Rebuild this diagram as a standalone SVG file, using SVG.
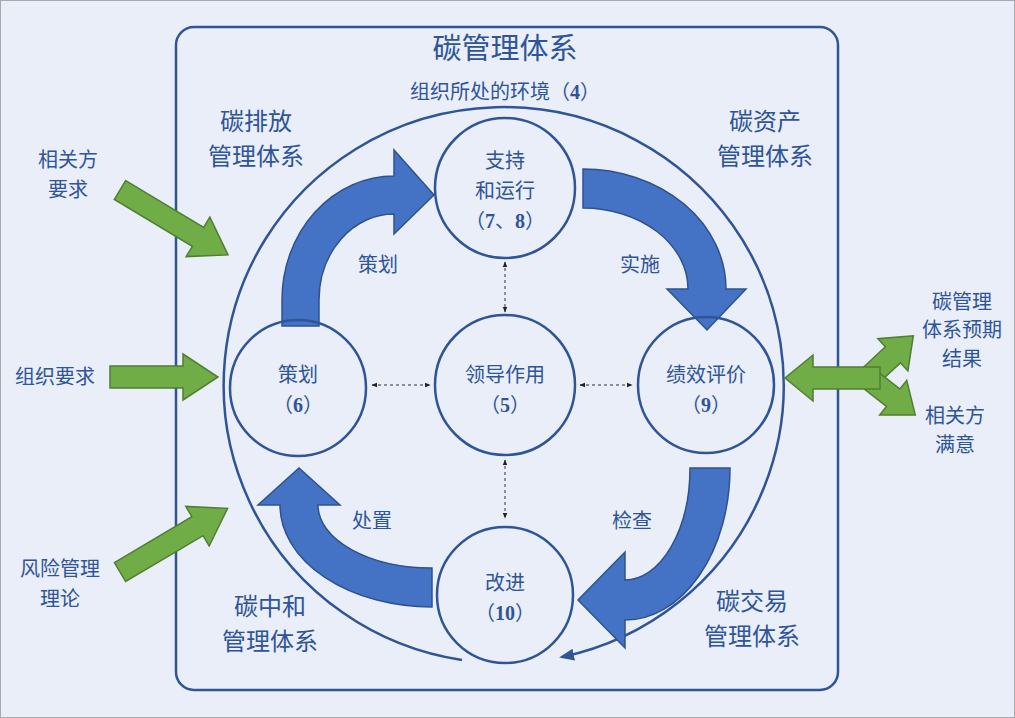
<svg xmlns="http://www.w3.org/2000/svg" width="1015" height="718" viewBox="0 0 1015 718">
<style>
text{font-family:"Noto Sans CJK SC","Noto Sans",sans-serif;fill:#2f5597;text-anchor:middle}
.t20{font-size:20px}.t24{font-size:24px}
.num{font-family:"Liberation Serif","Noto Sans CJK SC",serif;font-weight:bold;font-size:20px}
.c{fill:none;stroke:#2f5597;stroke-width:2.5}
.b{fill:#4472c4;stroke:#2f528f;stroke-width:1.5}
.g{fill:#70ad47;stroke:#507e32;stroke-width:1.5}
.d{stroke:#333;stroke-width:1;stroke-dasharray:3,3;fill:none;marker-start:url(#sm);marker-end:url(#sm)}
</style>
<defs>
<marker id="sm" viewBox="0 0 10 10" refX="9" refY="5" markerWidth="6" markerHeight="6" orient="auto-start-reverse"><path d="M0,1L10,5L0,9z" fill="#222"/></marker>
<marker id="big" viewBox="0 0 10 10" refX="8" refY="5" markerWidth="6" markerHeight="6" orient="auto"><path d="M0,1L10,5L0,9z" fill="#2f5597"/></marker>
</defs>
<rect x="0.5" y="0.5" width="1014" height="717" fill="#e9eef8" stroke="#aaa"/>
<rect x="176" y="27" width="662" height="663" rx="18" fill="none" stroke="#2f5597" stroke-width="2.5"/>
<text x="505" y="59" style="font-size:29px">碳管理体系</text>
<text x="505" y="99" class="t20">组织所处的环境（<tspan class="num">4</tspan>）</text>
<g id="labels">
<text x="256" y="130" class="t24">碳排放</text><text x="256" y="165" class="t24">管理体系</text>
<text x="765" y="130" class="t24">碳资产</text><text x="765" y="165" class="t24">管理体系</text>
<text x="270" y="615" class="t24">碳中和</text><text x="270" y="650" class="t24">管理体系</text>
<text x="752" y="610" class="t24">碳交易</text><text x="752" y="645" class="t24">管理体系</text>
<text x="68" y="167" class="t20">相关方</text><text x="68" y="197" class="t20">要求</text>
<text x="55" y="384" class="t20">组织要求</text>
<text x="60" y="576" class="t20">风险管理</text><text x="60" y="606" class="t20">理论</text>
<text x="962" y="309" class="t20">碳管理</text><text x="962" y="337" class="t20">体系预期</text><text x="962" y="366" class="t20">结果</text>
<text x="955" y="423" class="t20">相关方</text><text x="955" y="452" class="t20">满意</text>
<text x="378" y="272" class="t20">策划</text><text x="640" y="272" class="t20">实施</text>
<text x="632" y="528" class="t20">检查</text><text x="372" y="528" class="t20">处置</text>
</g>
<g id="connectors">
<path d="M462,660 A280,278 0 1 1 562,657" fill="none" stroke="#2f5597" stroke-width="2.5" marker-end="url(#big)"/>
<path class="b" d="M282,326 L282,300 A112,124 0 0 1 394,176 L394,150 L434,195 L394,234 L394,214 A75,86 0 0 0 319,300 L319,326 Z"/>
<path class="b" d="M583,169 A143,120 0 0 1 726,289 L746,289 L707,330 L667,289 L688,289 A105,81 0 0 0 583,208 Z"/>
<path class="b" d="M730,468 A105,152 0 0 1 625,620 L625,648 L578,600 L625,552 L625,580 A65,112 0 0 0 690,468 Z"/>
<path class="b" d="M432,607 A152,102 0 0 1 280,505 L258,505 L299,468 L340,505 L318,505 A114,63 0 0 0 432,568 Z"/>
<line class="d" x1="505" y1="262" x2="505" y2="312"/>
<line class="d" x1="505" y1="460" x2="505" y2="518"/>
<line class="d" x1="372" y1="385" x2="430" y2="385"/>
<line class="d" x1="580" y1="385" x2="632" y2="385"/>
<polygon class="g" transform="translate(120,190) rotate(31)" points="0,-11 91,-11 91,-23 126,0 91,23 91,11 0,11"/>
<polygon class="g" transform="translate(110,377)" points="0,-11 73,-11 73,-23 108,0 73,23 73,11 0,11"/>
<polygon class="g" transform="translate(120,572) rotate(-30.6)" points="0,-11 90,-11 90,-23 125,0 90,23 90,11 0,11"/>
<polygon class="g" transform="translate(868,378) rotate(-43)" points="0,-11 34,-11 34,-22 62,0 34,22 34,11 0,11"/>
<polygon class="g" transform="translate(868,378) rotate(38)" points="0,-11 32,-11 32,-22 60,0 32,22 32,11 0,11"/>
<polygon class="g" transform="translate(880,378) rotate(180)" points="0,-11 67,-11 67,-23 95,0 67,23 67,11 0,11"/>
</g>
<g id="n1"><circle class="c" cx="505" cy="188" r="70"/><text x="505" y="168" class="t20">支持</text><text x="505" y="198" class="t20">和运行</text><text x="505" y="228" class="t20">（<tspan class="num">7</tspan>、<tspan class="num">8</tspan>）</text></g>
<g id="n2"><circle class="c" cx="298" cy="388" r="68"/><text x="298" y="382" class="t20">策划</text><text x="298" y="412" class="t20">（<tspan class="num">6</tspan>）</text></g>
<g id="n3"><circle class="c" cx="505" cy="385" r="70"/><text x="505" y="382" class="t20">领导作用</text><text x="505" y="412" class="t20">（<tspan class="num">5</tspan>）</text></g>
<g id="n4"><circle class="c" cx="706" cy="385" r="68"/><text x="706" y="382" class="t20">绩效评价</text><text x="706" y="412" class="t20">（<tspan class="num">9</tspan>）</text></g>
<g id="n5"><circle class="c" cx="505" cy="595" r="68"/><text x="505" y="590" class="t20">改进</text><text x="505" y="620" class="t20">（<tspan class="num">10</tspan>）</text></g>
</svg>
